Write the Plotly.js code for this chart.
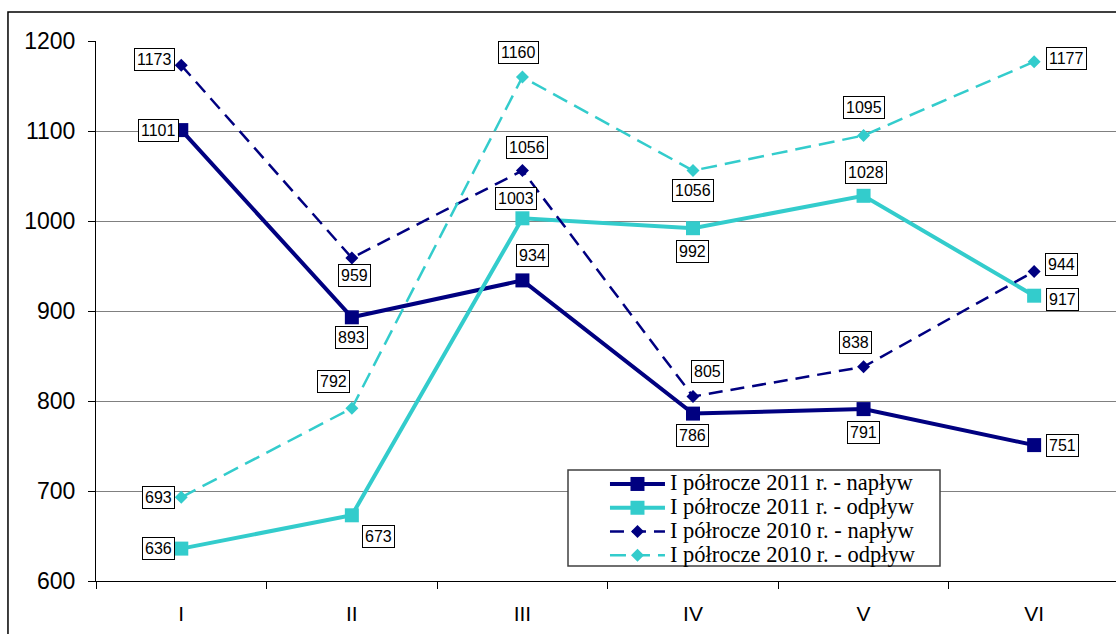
<!DOCTYPE html>
<html>
<head>
<meta charset="utf-8">
<script src="https://cdn.plot.ly/plotly-3.0.1.min.js"></script>
<style>html,body{margin:0;padding:0;background:#fff;}#chart{width:1116px;height:634px;}</style>
</head>
<body>
<div id="chart"></div>
<script>
const months = ["I", "II", "III", "IV", "V", "VI"];
const inflow2011 = [1101, 893, 934, 786, 791, 751];
const outflow2011 = [636, 673, 1003, 992, 1028, 917];
const inflow2010 = [1173, 959, 1056, 805, 838, 944];
const outflow2010 = [693, 792, 1160, 1056, 1095, 1177];
const seriesNames = [
  "I półrocze 2011 r. - napływ",
  "I półrocze 2011 r. - odpływ",
  "I półrocze 2010 r. - napływ",
  "I półrocze 2010 r. - odpływ"
];

const NAVY = "#000080";
const TURQ = "#33CCCC";
const big = s => '<span style="font-size:22.5px">' + s + '</span>';

const traces = [
  {x: months, y: inflow2011, name: big(seriesNames[0]), mode: "lines+markers",
   line: {color: NAVY, width: 4}, marker: {symbol: "square", size: 14, color: NAVY}},
  {x: months, y: outflow2011, name: big(seriesNames[1]), mode: "lines+markers",
   line: {color: TURQ, width: 4}, marker: {symbol: "square", size: 14, color: TURQ}},
  {x: months, y: inflow2010, name: big(seriesNames[2]), mode: "lines+markers",
   line: {color: NAVY, width: 2.5, dash: "14px,8px"}, marker: {symbol: "diamond", size: 10, color: NAVY}},
  {x: months, y: outflow2010, name: big(seriesNames[3]), mode: "lines+markers",
   line: {color: TURQ, width: 2.5, dash: "16px,8px"}, marker: {symbol: "diamond", size: 10, color: TURQ}}
];

// label offsets in px [dx, dy(down)]
const offsets = [
  [[-23,0],[0,20],[10,-25],[0,22],[0,23],[28,0]],
  [[-23,0],[27,21],[-6,-20],[0,23],[2,-23],[28,4]],
  [[-27,-6],[3,18],[5,-23],[15,-25],[-8,-24],[27,-7]],
  [[-23,0],[-18,-27],[-4,-25],[0,20],[0,-28],[32,-3]]
];
const seriesData = [inflow2011, outflow2011, inflow2010, outflow2010];
const annotations = [];
seriesData.forEach((arr, s) => {
  arr.forEach((v, i) => {
    annotations.push({
      x: months[i], y: v, xref: "x", yref: "y",
      text: String(v), showarrow: false,
      xshift: offsets[s][i][0], yshift: -offsets[s][i][1],
      font: {family: "Liberation Sans, Arial, sans-serif", size: 16, color: "#000"},
      bgcolor: "#fff", bordercolor: "#000", borderwidth: 1, borderpad: 2
    });
  });
});

const layout = {
  width: 1116, height: 634,
  margin: {l: 96, r: 0, t: 41, b: 53},
  paper_bgcolor: "#fff", plot_bgcolor: "#fff",
  showlegend: true,
  legend: {
    x: 0.499, y: 0.211, xanchor: "left", yanchor: "top",
    bgcolor: "rgba(0,0,0,0)", borderwidth: 0,
    font: {family: "Liberation Serif, Times New Roman, serif", size: 16, color: "#000"},
    itemwidth: 55, tracegroupgap: 0
  },
  xaxis: {
    type: "category", range: [-0.5, 5.48],
    showline: true, linecolor: "#000", linewidth: 1,
    ticks: "outside", ticklen: 7, tickcolor: "#000", tickson: "boundaries",
    showgrid: false, zeroline: false,
    tickfont: {family: "Liberation Sans, Arial, sans-serif", size: 21, color: "#000"},
    ticklabelstandoff: 14
  },
  yaxis: {
    range: [600, 1200], dtick: 100,
    showline: true, linecolor: "#000", linewidth: 1,
    ticks: "outside", ticklen: 7, tickcolor: "#000",
    showgrid: true, gridcolor: "#808080", gridwidth: 1, zeroline: false,
    tickfont: {family: "Liberation Sans, Arial, sans-serif", size: 23, color: "#000"},
    ticklabelstandoff: 8
  },
  annotations: annotations,
  shapes: [
    {type: "rect", xref: "paper", yref: "paper",
     x0: -0.0863, x1: 1.05, y0: -0.12, y1: 1.0537,
     line: {color: "#000", width: 1.5}, fillcolor: "rgba(0,0,0,0)", layer: "below"},
    {type: "rect", xref: "paper", yref: "paper",
     x0: (568 - 96) / 1020, x1: (940 - 96) / 1020,
     y0: (581 - 566) / 540, y1: (581 - 470) / 540,
     line: {color: "#404040", width: 1.5}, fillcolor: "#fff", layer: "above"}
  ]
};

Plotly.newPlot("chart", traces, layout, {displayModeBar: false, staticPlot: true});
</script>
</body>
</html>
